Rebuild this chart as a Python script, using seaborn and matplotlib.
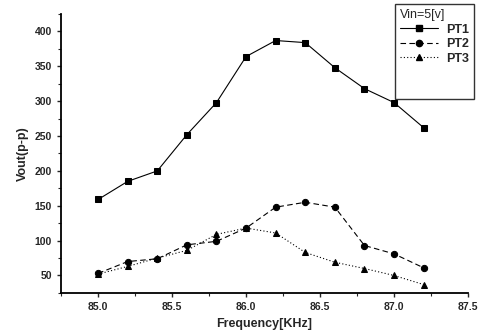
import pandas as pd
import matplotlib.pyplot as plt
import seaborn as sns
from matplotlib.ticker import MultipleLocator
from matplotlib.lines import Line2D

# values
freq = [85.0, 85.2, 85.4, 85.6, 85.8, 86.0, 86.2, 86.4, 86.6, 86.8, 87.0, 87.2]
pt1 = [159, 185, 200, 252, 298, 364, 387, 384, 348, 318, 298, 262]
pt2 = [53, 70, 74, 94, 99, 118, 148, 155, 148, 93, 81, 61]
pt3 = [52, 63, 75, 86, 109, 118, 111, 83, 69, 60, 50, 37]
x_ticks = [85.0, 85.5, 86.0, 86.5, 87.0, 87.5]
y_ticks = [50, 100, 150, 200, 250, 300, 350, 400]

df = pd.DataFrame({'freq': freq, 'PT1': pt1, 'PT2': pt2, 'PT3': pt3})

sns.set_style('ticks')
plt.rcParams['font.family'] = ['Liberation Sans', 'DejaVu Sans']
plt.rcParams['font.weight'] = 'bold'

fig = plt.figure(figsize=(4.85, 3.34), dpi=100)
ax = fig.add_axes([0.126, 0.123, 0.839, 0.835])

styles = {
    'PT1': dict(marker='s', linestyle='-', markersize=4.5),
    'PT2': dict(marker='o', linestyle=(0, (5, 3)), markersize=4.5),
    'PT3': dict(marker='^', linestyle=(0, (1, 2)), markersize=4.5),
}
for name, st in styles.items():
    sns.lineplot(data=df, x='freq', y=name, ax=ax, color='black', linewidth=0.8,
                 marker=st['marker'], markersize=st['markersize'],
                 markeredgecolor='black', linestyle=st['linestyle'])

ax.set_xlim(84.75, 87.5)
ax.set_ylim(25, 425)
ax.set_xticks(x_ticks)
ax.set_xticklabels([f'{t:.1f}' for t in x_ticks])
ax.set_yticks(y_ticks)
ax.xaxis.set_minor_locator(MultipleLocator(0.25))
ax.yaxis.set_minor_locator(MultipleLocator(25))
ax.tick_params(labelsize=7.5, width=1, length=3, direction='out')
ax.tick_params(which='minor', length=2, width=0.8)
sns.despine(ax=ax)
for sp in ['left', 'bottom']:
    ax.spines[sp].set_linewidth(1.3)
    ax.spines[sp].set_color('black')

ax.set_xlabel('Frequency[KHz]', fontsize=9, fontweight='bold')
ax.set_ylabel('Vout(p-p)', fontsize=9, fontweight='bold')

handles = [Line2D([], [], color='black', linewidth=0.8, **styles[n]) for n in ['PT1', 'PT2', 'PT3']]
# two invisible rows keep the empty space at the bottom of the legend box
blank = [Line2D([], [], linestyle='none') for _ in range(2)]
leg = fig.legend(handles + blank, ['PT1', 'PT2', 'PT3', ' ', ' '], title='Vin=5[v]',
                 loc='upper right', bbox_to_anchor=(0.978, 0.988), fontsize=9,
                 title_fontproperties={'size': 9, 'weight': 'normal'},
                 frameon=True, fancybox=False, edgecolor='black', handlelength=3.0,
                 labelspacing=0.2, borderpad=0.4, handletextpad=0.7, borderaxespad=0)
leg._legend_box.align = 'left'
leg.get_frame().set_linewidth(1.0)

fig.savefig('out.png', dpi=100)
